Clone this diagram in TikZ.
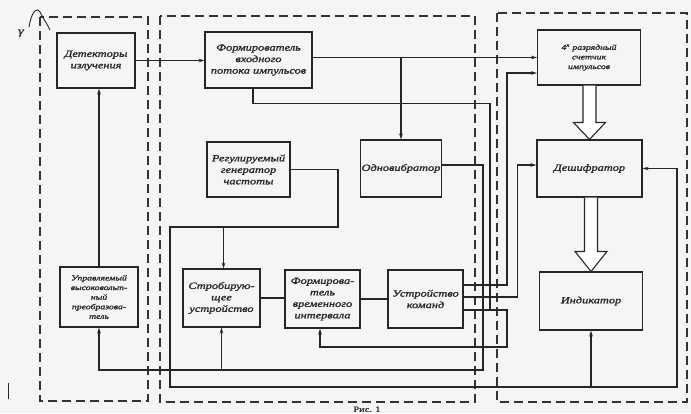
\documentclass[tikz,border=0pt]{standalone}
\usepackage{fontspec}
\newfontfamily\hand{Liberation Serif}[FakeStretch=1.3,FakeBold=1.5]
\usetikzlibrary{arrows.meta,calc}
\begin{document}
\begin{tikzpicture}[x=1pt,y=-1pt,
  line width=1.1pt, draw=black!85,
  blk/.style={draw=black!85,line width=1.1pt,rectangle,align=center,inner sep=1pt,
    font=\hand\itshape\fontsize{9.5}{11.5}\selectfont,text=black!85},
  small/.style={font=\hand\itshape\fontsize{7.5}{9.6}\selectfont},
  arr/.style={-{Stealth[length=6pt,width=3.6pt]}},
  frame/.style={draw=black!80,line width=1.2pt,dash pattern=on 9pt off 5pt},
  hollow/.style={draw=black!85,line width=1.1pt,fill=white,line join=miter}]
\useasboundingbox[fill=black!4] (0,0) rectangle (691,413);
% dashed frames
\draw[frame] (40,17) rectangle (148,401);
\draw[frame] (160,16) rectangle (475,402);
\draw[frame] (497,13) rectangle (687,402);
% blocks
\node[blk,minimum width=78,minimum height=55] (det) at (96,60.5) {Детекторы\\излучения};
\node[blk,minimum width=107,minimum height=56] (fvp) at (258.5,60) {Формирователь\\входного\\потока импульсов};
\node[blk,minimum width=83,minimum height=55] (gen) at (248.5,169.5) {Регулируемый\\генератор\\частоты};
\node[blk,minimum width=78,minimum height=57] (odn) at (401,168.5) {Одновибратор};
\node[blk,small,minimum width=103,minimum height=55] (cnt) at (589,57.5) {4\textsuperscript{х} разрядный\\счетчик\\импульсов};
\node[blk,minimum width=105,minimum height=57] (dsh) at (589.5,168.5) {Дешифратор};
\node[blk,minimum width=103,minimum height=58] (ind) at (591,301) {Индикатор};
\node[blk,small,minimum width=78,minimum height=60] (uvp) at (99,297) {Управляемый\\высоковольт-\\ный\\преобразова-\\тель};
\node[blk,minimum width=77,minimum height=58] (str) at (221.5,298) {Стробирую-\\щее\\устройство};
\node[blk,minimum width=75,minimum height=58] (fvi) at (322.5,299) {Формирова-\\тель\\временного\\интервала};
\node[blk,minimum width=75,minimum height=58] (uk) at (425.5,299) {Устройство\\команд};
% bend points
\coordinate (b1) at (483,370);
\coordinate (g1) at (338,227);
\coordinate (g2) at (170,387);
\coordinate (g3) at (677,387);
\coordinate (j1) at (490,310);
\coordinate (k1) at (507,347);
% connectors
\draw[arr] (det.east) -- (det.east -| fvp.west);
\draw[arr] (uvp.north) -- (uvp.north |- det.south);
\draw[arr] (fvp.east |- cnt.west) -- (cnt.west);
\draw[arr] (odn.north |- cnt.west) -- (odn.north);
\draw ([xshift=-5.5pt]fvp.south) -- ++(0,15) -| (j1);
\draw[arr] ([yshift=14pt]uk.east) -| ([xshift=-30pt,yshift=-15.5pt]cnt.west) -- ([yshift=-15.5pt]cnt.west);
\draw[arr] ([yshift=2pt]uk.east) -| ([xshift=-19pt,yshift=3.5pt]dsh.west) -- ([yshift=3.5pt]dsh.west);
\draw[arr] ([yshift=-11pt]uk.east) -| (k1) -| ([xshift=-2.5pt]fvi.south);
\draw[arr] ([yshift=3.5pt]odn.east) -| (b1) -| (uvp.south);
\draw[arr] (str.south |- b1) -- (str.south);
\draw[arr] (gen.east) -| (g1) -| (g2) -| (g3 |- dsh.east) -- (dsh.east);
\draw[arr] ([xshift=2pt]str.north |- g1) -- ([xshift=2pt]str.north);
\draw[arr] (ind.south |- g2) -- (ind.south);
\draw (str.east) -- (str.east -| fvi.west);
\draw (fvi.east) -- (fvi.east -| uk.west);
% hollow arrows
\draw[hollow] ($(dsh.north |- cnt.south)+(-6.5,0)$) -- ($(dsh.north)+(-6.5,-17)$) -- ($(dsh.north)+(-16,-17)$) -- (dsh.north) -- ($(dsh.north)+(16,-17)$) -- ($(dsh.north)+(6.5,-17)$) -- ($(dsh.north |- cnt.south)+(6.5,0)$);
\draw[hollow] ($(ind.north |- dsh.south)+(-6.5,0)$) -- ($(ind.north)+(-6.5,-20)$) -- ($(ind.north)+(-16,-20)$) -- (ind.north) -- ($(ind.north)+(16,-20)$) -- ($(ind.north)+(6.5,-20)$) -- ($(ind.north |- dsh.south)+(6.5,0)$);
% marks
\node[font=\hand\itshape\fontsize{11}{11}\selectfont,text=black!80] (gam) at (21,33) {γ};
\draw[line width=0.9pt] (29,27) .. controls (31,14) and (36,6) .. (40,12) .. controls (43,18) and (46,22) .. (50,30);
\draw[line width=0.9pt] (8,383) -- (8,399);
\node[anchor=south,inner sep=0.5pt,font=\hand\fontsize{8}{8}\selectfont,text=black!80] (fig) at (367,413) {Рис. 1};
\end{tikzpicture}
\end{document}
